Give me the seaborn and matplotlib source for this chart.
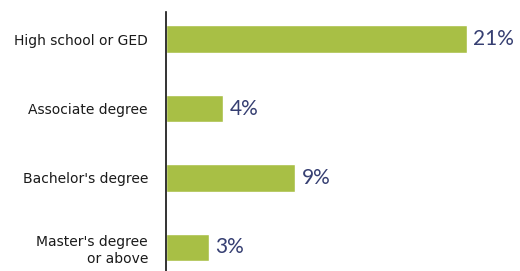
import matplotlib
matplotlib.use("Agg")
import matplotlib.pyplot as plt
import seaborn as sns
import pandas as pd

categories = ["High school or GED", "Associate degree", "Bachelor's degree", "Master's degree\nor above"]
values = [21, 4, 9, 3]
value_labels = ["21%", "4%", "9%", "3%"]

df = pd.DataFrame({"category": categories, "value": values})

sns.set_style("white")
plt.rcParams['font.family'] = ['DejaVu Sans']

fig = plt.figure(figsize=(5.2, 2.71), dpi=100)
ax = fig.add_axes([166/520, 0, 354/520, 1 - 12/271])

sns.barplot(data=df, x="value", y="category", orient="h", color="#a8bf45",
            saturation=1, width=0.4, ax=ax)

ax.set_xlim(0, 24.7)
ax.set_ylim(3.34, -0.39)
ax.set_xlabel("")
ax.set_ylabel("")
ax.set_xticks([])
for s in ["top", "right", "bottom"]:
    ax.spines[s].set_visible(False)
ax.spines["left"].set_color("#111111")
ax.spines["left"].set_linewidth(1.2)
ax.tick_params(axis="y", length=0, pad=13)
for t in ax.get_yticklabels():
    t.set_fontsize(10)
    t.set_color("#1a1a1a")
    t.set_ha("right")
    t.set_multialignment("right")
    t.set_linespacing(1.25)

for i, (v, lab) in enumerate(zip(values, value_labels)):
    ax.text(v + 0.45, i, lab, va="center", ha="left", fontsize=15,
            color="#363f72", family=["Lato", "DejaVu Sans"], fontweight="normal")

fig.savefig("out.png", dpi=100)
